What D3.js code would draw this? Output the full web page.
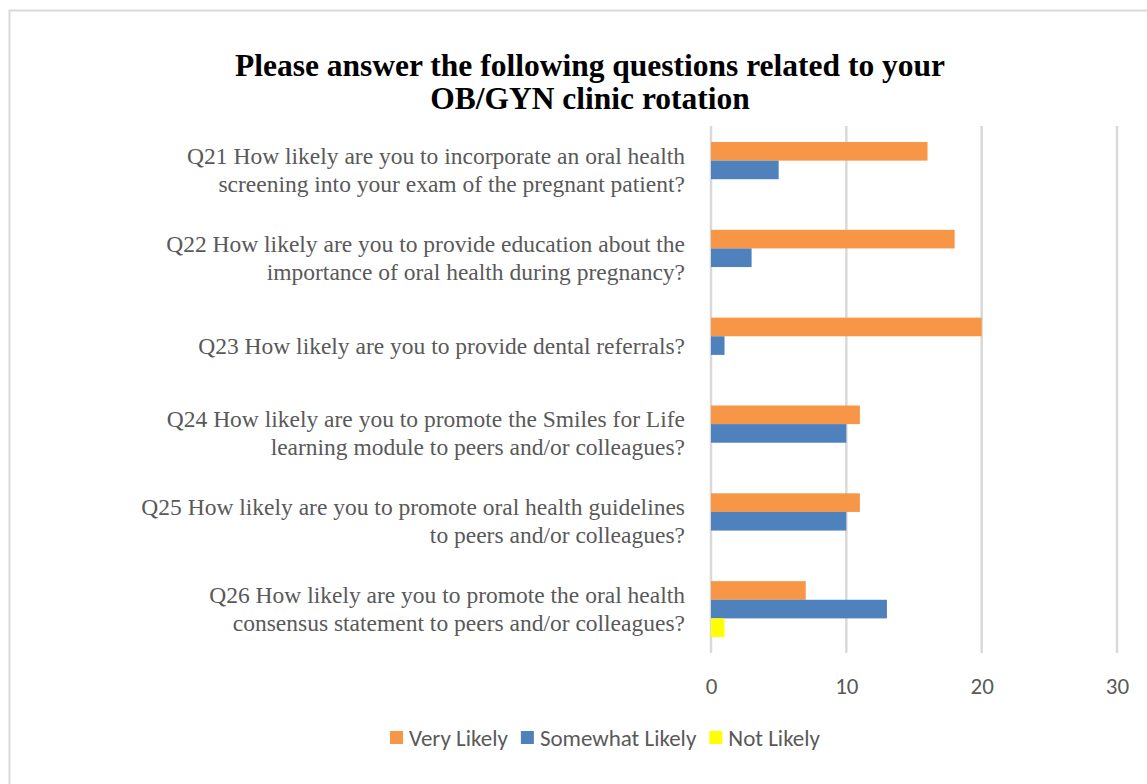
<!DOCTYPE html>
<html>
<head>
<meta charset="utf-8">
<script src="https://cdn.jsdelivr.net/npm/d3@7"></script>
<style>
  body { margin: 0; background: #fff; }
  svg { display: block; }
</style>
</head>
<body>
<div id="chart"></div>
<script>
var questions = [
  ["Q21 How likely are you to incorporate an oral health", "screening into your exam of the pregnant patient?"],
  ["Q22 How likely are you to provide education about the", "importance of oral health during pregnancy?"],
  ["Q23 How likely are you to provide dental referrals?"],
  ["Q24 How likely are you to promote the Smiles for Life", "learning module to peers and/or colleagues?"],
  ["Q25 How likely are you to promote oral health guidelines", "to peers and/or colleagues?"],
  ["Q26 How likely are you to promote the oral health", "consensus statement to peers and/or colleagues?"]
];
var qKeys = ["Q21", "Q22", "Q23", "Q24", "Q25", "Q26"];
var series = ["Very Likely", "Somewhat Likely", "Not Likely"];
var veryLikely = [16, 18, 20, 11, 11, 7];
var somewhatLikely = [5, 3, 1, 10, 10, 13];
var notLikely = [0, 0, 0, 0, 0, 1];
var xTicks = [0, 10, 20, 30];

var width = 1147, height = 784;
var colors = d3.scaleOrdinal().domain(series).range(["#F79646", "#4F81BD", "#FFFF00"]);

var svg = d3.select("#chart").append("svg")
  .attr("width", width)
  .attr("height", height);

// chart border
svg.append("rect")
  .attr("x", 9.5).attr("y", 10.5)
  .attr("width", width + 20).attr("height", height + 20)
  .attr("fill", "none")
  .attr("stroke", "#D9D9D9")
  .attr("stroke-width", 2);

// title
var title = svg.append("text")
  .attr("text-anchor", "middle")
  .style("font-family", "'Liberation Serif', 'Times New Roman', serif")
  .style("font-weight", "bold")
  .style("font-size", "31.5px")
  .attr("fill", "#000");
title.append("tspan").attr("x", 590).attr("y", 76).text("Please answer the following questions related to your");
title.append("tspan").attr("x", 590).attr("y", 109).text("OB/GYN clinic rotation");

var x = d3.scaleLinear().domain([0, 30]).range([711, 1117]);
var y = d3.scaleBand().domain(qKeys).range([126, 653]).paddingInner(0.364).paddingOuter(0.182);
var ySub = d3.scaleBand().domain(series).range([0, y.bandwidth()]);

// gridlines
svg.append("g").selectAll("line")
  .data(xTicks)
  .enter().append("line")
  .attr("x1", d => x(d)).attr("x2", d => x(d))
  .attr("y1", 126).attr("y2", 653)
  .attr("stroke", "#D9D9D9")
  .attr("stroke-width", 2.5);

// x axis labels
var xAxis = svg.append("g")
  .attr("transform", "translate(0,653)")
  .call(d3.axisBottom(x).tickValues(xTicks).tickSize(0).tickPadding(25));
xAxis.select(".domain").remove();
xAxis.selectAll("text")
  .style("font-family", "Carlito, 'Open Sans', 'Liberation Sans', sans-serif")
  .style("font-size", "23px")
  .attr("fill", "#595959");

// bars
var rows = qKeys.map(function (q, i) {
  return { q: q, values: [veryLikely[i], somewhatLikely[i], notLikely[i]] };
});

svg.append("g").selectAll("g")
  .data(rows)
  .enter().append("g")
  .attr("transform", d => "translate(0," + y(d.q) + ")")
  .selectAll("rect")
  .data(d => series.map((s, j) => ({ key: s, value: d.values[j] })))
  .enter().append("rect")
  .attr("x", x(0))
  .attr("y", d => ySub(d.key))
  .attr("width", d => x(d.value) - x(0))
  .attr("height", ySub.bandwidth())
  .attr("fill", d => colors(d.key));

// category labels
var labels = svg.append("g").selectAll("text")
  .data(questions)
  .enter().append("text")
  .attr("text-anchor", "end")
  .style("font-family", "'Liberation Serif', 'Times New Roman', serif")
  .style("font-size", "23.5px")
  .attr("fill", "#595959");

labels.each(function (lines, i) {
  var cy = y(qKeys[i]) + y.bandwidth() / 2;
  var t = d3.select(this);
  var lh = 28;
  var start = cy - (lines.length - 1) * lh / 2 + 8;
  lines.forEach(function (line, k) {
    t.append("tspan").attr("x", 685).attr("y", start + k * lh).text(line);
  });
});

// legend
var legend = svg.append("g");
var lx = 0;
series.forEach(function (s) {
  var g = legend.append("g").attr("transform", "translate(" + lx + ",0)");
  g.append("rect").attr("x", 0).attr("y", -7).attr("width", 13).attr("height", 13).attr("fill", colors(s));
  var t = g.append("text")
    .attr("x", 19).attr("y", 8)
    .style("font-family", "Carlito, 'Open Sans', 'Liberation Sans', sans-serif")
    .style("font-size", "23px")
    .attr("fill", "#595959")
    .text(s);
  lx += 19 + t.node().getComputedTextLength() + 13;
});
legend.attr("transform", "translate(" + (605 - (lx - 13) / 2) + ",738)");
</script>
</body>
</html>
